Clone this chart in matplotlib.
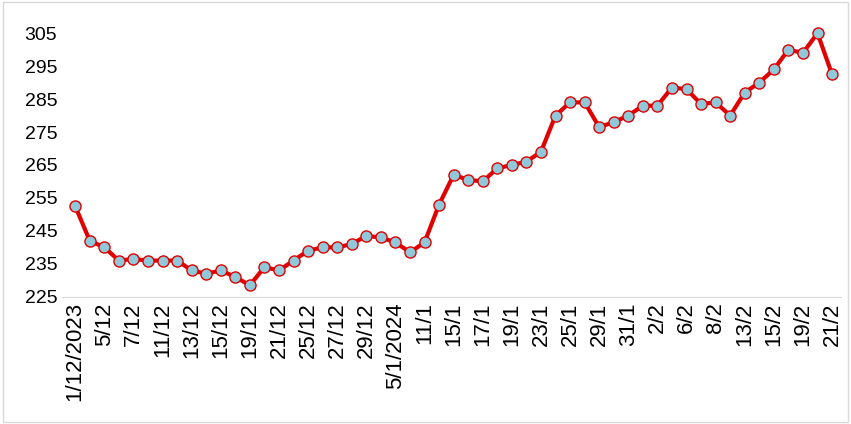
import matplotlib
matplotlib.use("Agg")
import matplotlib.pyplot as plt

values = [252.5, 242, 240, 236, 236.5, 236, 236, 236, 233, 232, 233, 231, 228.5, 234, 233, 236,
          239, 240, 240, 241, 243.5, 243, 241.5, 238.5, 241.5, 253, 262, 260.5, 260, 264, 265,
          266, 269, 280, 284, 284, 276.5, 278, 280, 283, 283, 288.5, 288, 283.5, 284, 280, 287,
          290, 294, 300, 299, 305, 292.5]
tick_labels = ["1/12/2023", "5/12", "7/12", "11/12", "13/12", "15/12", "19/12", "21/12", "25/12",
               "27/12", "29/12", "5/1/2024", "11/1", "15/1", "17/1", "19/1", "23/1", "25/1",
               "29/1", "31/1", "2/2", "6/2", "8/2", "13/2", "15/2", "19/2", "21/2"]
yticks = [225, 235, 245, 255, 265, 275, 285, 295, 305]

plt.rcParams['font.family'] = ['Liberation Sans', 'DejaVu Sans']
fig = plt.figure(figsize=(8.51, 4.24), dpi=100)
fig.patches.append(plt.Rectangle((0.004, 0.005), 0.992, 0.99, transform=fig.transFigure,
                                 fill=False, edgecolor="#d9d9d9", linewidth=1))
ax = fig.add_axes([0.073, 0.30, 0.915, 0.68])
x = list(range(len(values)))
ax.plot(x, values, color="#e00000", linewidth=3, marker="o", markersize=8,
        markerfacecolor="#8fc9d9", markeredgecolor="#e00000", markeredgewidth=1)
ax.set_ylim(225, 312.5)
ax.set_xlim(-0.9, 52.6)
ax.set_yticks(yticks)
ax.set_xticks(x[::2])
ax.set_xticklabels(tick_labels, rotation=90, fontsize=16)
ax.tick_params(axis="y", labelsize=14, length=0)
ax.tick_params(axis="x", length=0, pad=4)
for s in ["top", "right", "left"]:
    ax.spines[s].set_visible(False)
ax.spines["bottom"].set_color("#d9d9d9")
fig.savefig("out.png", dpi=100)
